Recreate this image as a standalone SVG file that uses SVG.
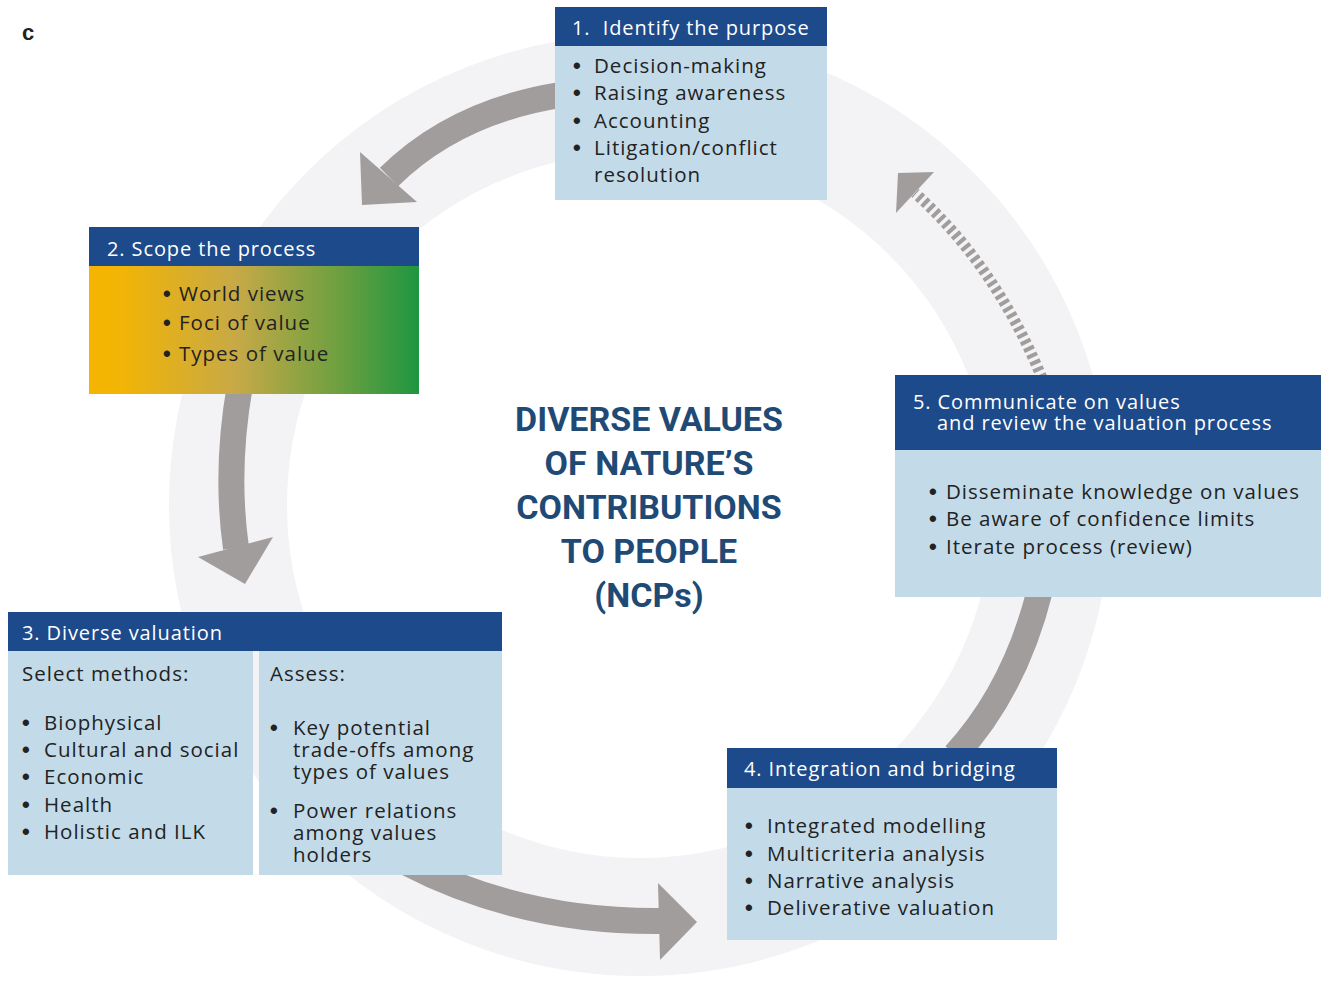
<svg xmlns="http://www.w3.org/2000/svg" width="1321" height="981" viewBox="0 0 1321 981">
<defs>
<linearGradient id="scopeGrad" x1="0" y1="0" x2="1" y2="0">
<stop offset="0" stop-color="#f5b400"/>
<stop offset="0.1" stop-color="#f2b406"/>
<stop offset="0.45" stop-color="#c6a947"/>
<stop offset="0.75" stop-color="#6fa040"/>
<stop offset="1" stop-color="#1e9640"/>
</linearGradient>
<style>
.hdr{fill:#1d4a8a}
.body{fill:#c3dbe9}
.ht{font-family:"Open Sans","Liberation Sans",sans-serif;font-size:20px;fill:#ffffff;letter-spacing:0.9px}
.bt{font-family:"Open Sans","Liberation Sans",sans-serif;font-size:20.5px;fill:#222222;letter-spacing:1px}
.bu{font-family:"Liberation Sans",sans-serif;font-size:22px;font-weight:700;fill:#222222}
.shaft{fill:none;stroke:#a19d9d;stroke-width:26}
.head{fill:#a19d9d}
.dash{fill:none;stroke:#a19d9d;stroke-width:11;stroke-dasharray:4 3.5}
.ctr{font-family:Roboto,"Liberation Sans",sans-serif;font-weight:700;font-size:34px;fill:#1f4a75;text-anchor:middle}
</style>
</defs>
<rect width="1321" height="981" fill="#ffffff"/>
<circle cx="640" cy="505" r="412" fill="none" stroke="#f3f3f5" stroke-width="118"/>
<text x="22" y="40" font-family="Liberation Sans, sans-serif" font-weight="700" font-size="22" fill="#222">c</text>

<g id="connectors">
<path class="shaft" d="M 560,95 Q 455,112 389,177"/>
<polygon class="head" points="360,152 417,202 362,205"/>
<path class="shaft" d="M 240,385 Q 225,470 236,548"/>
<polygon class="head" points="198,557 273,537 245,584"/>
<path class="shaft" d="M 405,862 Q 520,922 660,921"/>
<polygon class="head" points="658,883 697,922 660,960"/>
<path class="shaft" d="M 1040,590 Q 1015,690 955,755"/>
<path class="dash" d="M 1042,378 Q 995,265 915,193"/>
<polygon class="head" points="898,173 934,172 896,213"/>
</g>

<g id="center-title">
<text class="ctr" x="649" y="431">DIVERSE VALUES</text>
<text class="ctr" x="649" y="475">OF NATURE’S</text>
<text class="ctr" x="649" y="519">CONTRIBUTIONS</text>
<text class="ctr" x="649" y="563">TO PEOPLE</text>
<text class="ctr" x="649" y="607">(NCPs)</text>
</g>

<g id="node1">
<rect class="body" x="555" y="46" width="272" height="154"/>
<rect class="hdr" x="555" y="7" width="272" height="39"/>
<text class="ht" x="572" y="35">1.&#160; Identify the purpose</text>
<text class="bu" x="573" y="73">•</text><text class="bt" x="594" y="73">Decision-making</text>
<text class="bu" x="573" y="100">•</text><text class="bt" x="594" y="100">Raising awareness</text>
<text class="bu" x="573" y="128">•</text><text class="bt" x="594" y="128">Accounting</text>
<text class="bu" x="573" y="155">•</text><text class="bt" x="594" y="155">Litigation/conflict</text>
<text class="bt" x="594" y="182">resolution</text>
</g>

<g id="node2">
<rect x="89" y="266" width="330" height="128" fill="url(#scopeGrad)"/>
<rect class="hdr" x="89" y="227" width="330" height="39"/>
<text class="ht" x="107" y="256">2. Scope the process</text>
<text class="bu" x="163" y="301">•</text><text class="bt" x="179" y="301">World views</text>
<text class="bu" x="163" y="330">•</text><text class="bt" x="179" y="330">Foci of value</text>
<text class="bu" x="163" y="361">•</text><text class="bt" x="179" y="361">Types of value</text>
</g>

<g id="node3">
<rect class="body" x="8" y="651" width="245" height="224"/>
<rect class="body" x="259" y="651" width="243" height="224"/>
<rect class="hdr" x="8" y="612" width="494" height="39"/>
<text class="ht" x="22" y="640">3. Diverse valuation</text>
<text class="bt" x="22" y="681">Select methods:</text>
<text class="bu" x="22" y="730">•</text><text class="bt" x="44" y="730">Biophysical</text>
<text class="bu" x="22" y="757">•</text><text class="bt" x="44" y="757">Cultural and social</text>
<text class="bu" x="22" y="784">•</text><text class="bt" x="44" y="784">Economic</text>
<text class="bu" x="22" y="812">•</text><text class="bt" x="44" y="812">Health</text>
<text class="bu" x="22" y="839">•</text><text class="bt" x="44" y="839">Holistic and ILK</text>
<text class="bt" x="270" y="681">Assess:</text>
<text class="bu" x="270" y="735">•</text><text class="bt" x="293" y="735">Key potential</text>
<text class="bt" x="293" y="757">trade-offs among</text>
<text class="bt" x="293" y="779">types of values</text>
<text class="bu" x="270" y="818">•</text><text class="bt" x="293" y="818">Power relations</text>
<text class="bt" x="293" y="840">among values</text>
<text class="bt" x="293" y="862">holders</text>
</g>

<g id="node4">
<rect class="body" x="727" y="788" width="330" height="152"/>
<rect class="hdr" x="727" y="748" width="330" height="40"/>
<text class="ht" x="744" y="776">4. Integration and bridging</text>
<text class="bu" x="745" y="833">•</text><text class="bt" x="767" y="833">Integrated modelling</text>
<text class="bu" x="745" y="861">•</text><text class="bt" x="767" y="861">Multicriteria analysis</text>
<text class="bu" x="745" y="888">•</text><text class="bt" x="767" y="888">Narrative analysis</text>
<text class="bu" x="745" y="915">•</text><text class="bt" x="767" y="915">Deliverative valuation</text>
</g>

<g id="node5">
<rect class="body" x="895" y="450" width="426" height="147"/>
<rect class="hdr" x="895" y="375" width="426" height="75"/>
<text class="ht" x="913" y="409">5. Communicate on values</text>
<text class="ht" x="937" y="430">and review the valuation process</text>
<text class="bu" x="929" y="499">•</text><text class="bt" x="946" y="499">Disseminate knowledge on values</text>
<text class="bu" x="929" y="526">•</text><text class="bt" x="946" y="526">Be aware of confidence limits</text>
<text class="bu" x="929" y="554">•</text><text class="bt" x="946" y="554">Iterate process (review)</text>
</g>
</svg>
